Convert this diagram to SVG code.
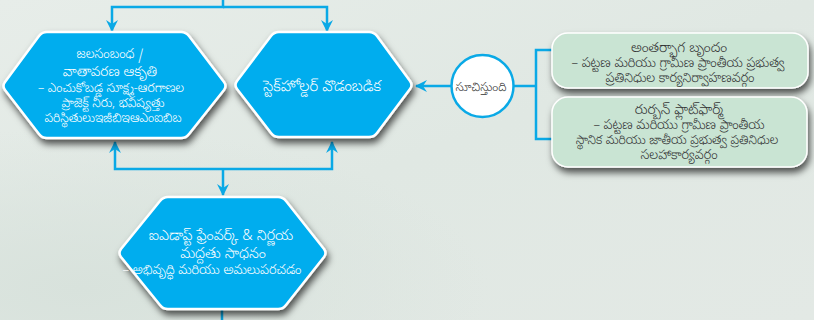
<svg xmlns="http://www.w3.org/2000/svg" width="814" height="320" viewBox="0 0 814 320">
<defs>
<linearGradient id="bg" x1="0" y1="0" x2="1" y2="1">
<stop offset="0" stop-color="#e7ede9"/>
<stop offset="0.5" stop-color="#e0e8e3"/>
<stop offset="1" stop-color="#e3e9e5"/>
</linearGradient>
<radialGradient id="fog" cx="0.1" cy="0.9" r="0.5">
<stop offset="0" stop-color="#d8e2dc"/>
<stop offset="1" stop-color="#d8e2dc" stop-opacity="0"/>
</radialGradient>
<filter id="sh" x="-20%" y="-20%" width="140%" height="150%">
<feDropShadow dx="2" dy="5" stdDeviation="3.5" flood-color="#000" flood-opacity="0.65"/>
</filter>
<marker id="ah" viewBox="0 0 12 12" refX="11" refY="6" markerWidth="12" markerHeight="12" markerUnits="userSpaceOnUse" orient="auto">
<path d="M0,0 L12,6 L0,12 L4,6 Z" fill="#0aa9e6"/>
</marker>
<style>
.hex{fill:#00adee;stroke:#fff;stroke-width:2.5;stroke-linejoin:round;filter:url(#sh)}
.box{fill:#c9e4d3;stroke:#fff;stroke-width:1.5;filter:url(#sh)}
.ln{fill:none;stroke:#0aa9e6;stroke-width:2.5}
.wt{fill:#fff;font-family:"Noto Sans Telugu","Noto Sans","DejaVu Sans",sans-serif;text-anchor:middle;font-weight:300}
.dk{fill:#333;font-family:"Noto Sans Telugu","Noto Sans","DejaVu Sans",sans-serif;text-anchor:middle;font-weight:300}
</style>
</defs>
<rect width="814" height="320" fill="url(#bg)"/>
<rect width="814" height="320" fill="url(#fog)"/>

<g id="connectors">
<path class="ln" d="M223,0 V7 H112 V31" marker-end="url(#ah)"/>
<path class="ln" d="M223,7 H327 V31" marker-end="url(#ah)"/>
<path class="ln" d="M223,169 H115 V142" marker-end="url(#ah)"/>
<path class="ln" d="M223,169 H332 V142" marker-end="url(#ah)"/>
<path class="ln" d="M223,169 V195" marker-end="url(#ah)"/>
<path class="ln" d="M451,86 H416" marker-end="url(#ah)"/>
<path class="ln" d="M514,86 H536"/>
<path class="ln" d="M553,50 H536 V139 H553"/>
<path class="ln" d="M222,309 V320"/>
</g>

<g id="node-water">
<path class="hex" d="M47,32 H181 Q186,32 189,36 L224,82 Q227,86 224,90 L189,134 Q186,138 181,138 H47 Q42,138 39,134 L5,90 Q2,86 5,82 L39,36 Q42,32 47,32 Z"/>
<text class="wt" font-size="13" x="110" y="58">జలసంబంధ /</text>
<text class="wt" font-size="14" x="110" y="76">వాతావరణ ఆకృతి</text>
<text class="wt" font-size="12.5" x="111" y="92">– ఎంచుకోబడ్డ సూక్ష్మ-ఆరగాణల</text>
<text class="wt" font-size="12.5" x="113" y="107">ప్రాజెక్ట్ నీరు, భవిష్యత్తు</text>
<text class="wt" font-size="12.5" x="113" y="122">పరిస్థితులుఇజీబిఇఆఎంఐబిబ</text>
</g>

<g id="node-stakeholder">
<path class="hex" d="M279,32 H369 Q374,32 377,36 L410,81 Q413,85 410,89 L377,133 Q374,137 369,137 H279 Q274,137 271,133 L237,89 Q234,85 237,81 L271,36 Q274,32 279,32 Z"/>
<text class="wt" font-size="15" x="322" y="91">స్టెక్‌హోల్డర్ వొడంబడిక</text>
</g>

<g id="node-indicates">
<circle cx="482.5" cy="86" r="31" fill="#fff" stroke="#0aa9e6" stroke-width="2.5"/>
<text class="dk" font-size="12" x="481" y="91">సూచిస్తుంది</text>
</g>

<g id="node-inner">
<rect class="box" x="552" y="33" width="256" height="55" rx="16"/>
<text class="dk" font-size="14" x="679" y="52">అంతర్భాగ బృందం</text>
<text class="dk" font-size="13" x="678" y="67">– పట్టణ మరియు గ్రామీణ ప్రాంతీయ ప్రభుత్వ</text>
<text class="dk" font-size="13" x="680" y="82">ప్రతినిధుల కార్యనిర్వాహణవర్గం</text>
</g>

<g id="node-rurban">
<rect class="box" x="552" y="97" width="255" height="70" rx="16"/>
<text class="dk" font-size="14" x="679" y="114">రుర్బన్ ఫ్లాట్‌ఫార్మ్</text>
<text class="dk" font-size="13" x="679" y="129">– పట్టణ మరియు గ్రామీణ ప్రాంతీయ</text>
<text class="dk" font-size="12.5" x="677" y="144">స్థానిక మరియు జాతీయ ప్రభుత్వ ప్రతినిధుల</text>
<text class="dk" font-size="13" x="679" y="159">సలహాకార్యవర్గం</text>
</g>

<g id="node-iadapt">
<path class="hex" d="M168,197 H278 Q283,197 286,201 L324,249 Q327,253 324,257 L286,305 Q283,309 278,309 H168 Q163,309 160,305 L121,257 Q118,253 121,249 L160,201 Q163,197 168,197 Z"/>
<text class="wt" font-size="14.5" x="221" y="240">ఐఎడాప్ట్ ఫ్రేంవర్క్ &amp; నిర్ణయ</text>
<text class="wt" font-size="14.5" x="223" y="258">మద్దతు సాధనం</text>
<text class="wt" font-size="13" x="212" y="274">– అభివృద్ధి మరియు అమలుపరచడం</text>
</g>
</svg>
